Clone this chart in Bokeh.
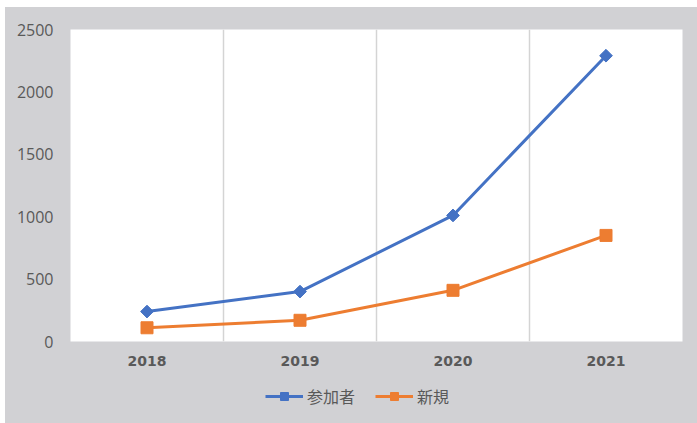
import math
from bokeh.plotting import figure
from bokeh.layouts import column
from bokeh.models import FixedTicker, Legend, LegendItem, Range1d
from bokeh.embed import file_html
from bokeh.resources import INLINE

years = ["2018", "2019", "2020", "2021"]
participants = [240, 400, 1010, 2290]
new_users = [110, 170, 410, 850]
y_ticks = [0, 500, 1000, 1500, 2000, 2500]
series_names = ["参加者", "新規"]

x = [i + 0.5 for i in range(len(years))]
gray = "#d1d1d4"
blue = "#4472C4"
orange = "#ED7D31"

p = figure(width=692, height=373, output_backend="svg", toolbar_location=None,
           x_range=Range1d(0, len(years)), y_range=Range1d(0, 2500),
           min_border_left=65, min_border_right=15, min_border_top=22, min_border_bottom=39)
p.border_fill_color = gray
p.background_fill_color = "white"
p.outline_line_color = None

p.xaxis.ticker = FixedTicker(ticks=x)
p.xaxis.major_label_overrides = {xx: y for xx, y in zip(x, years)}
p.yaxis.ticker = FixedTicker(ticks=y_ticks)
for ax in (p.xaxis[0], p.yaxis[0]):
    ax.axis_line_color = None
    ax.major_tick_line_color = None
    ax.minor_tick_line_color = None
    ax.major_tick_in = 0
    ax.major_tick_out = 0
    ax.major_label_text_color = "#595959"
p.yaxis.major_label_text_font = "Open Sans"
p.yaxis.major_label_text_font_size = "16px"
p.yaxis.major_label_standoff = 17
p.xaxis.major_label_text_font = "DejaVu Sans"
p.xaxis.major_label_text_font_size = "14px"
p.xaxis.major_label_text_font_style = "bold"
p.xaxis.major_label_standoff = 14

p.ygrid.grid_line_color = None
p.xgrid.ticker = FixedTicker(ticks=list(range(1, len(years))))
p.xgrid.grid_line_color = "#d4d4d4"
p.xgrid.grid_line_width = 1.5

p.line(x, participants, line_color=blue, line_width=3)
p.scatter(x, participants, marker="square", size=9, angle=math.pi / 4, color=blue)
p.line(x, new_users, line_color=orange, line_width=3)
p.scatter(x, new_users, marker="square", size=12, color=orange)

# legend strip under the chart (its series fall outside this strip's range and are clipped)
q = figure(width=692, height=43, output_backend="svg", toolbar_location=None,
           x_range=Range1d(0, len(years)), y_range=Range1d(-2, -1), min_border=0,
           x_axis_location=None, y_axis_location=None)
q.border_fill_color = None
q.background_fill_color = None
q.outline_line_color = None
q.grid.visible = False
ql1 = q.line(x, participants, line_color=blue, line_width=3)
qm1 = q.scatter(x, participants, marker="square", size=10, angle=math.pi / 4, color=blue)
ql2 = q.line(x, new_users, line_color=orange, line_width=3)
qm2 = q.scatter(x, new_users, marker="square", size=11, color=orange)

legend = Legend(items=[LegendItem(label=series_names[0], renderers=[ql1, qm1]),
                       LegendItem(label=series_names[1], renderers=[ql2, qm2])],
                orientation="horizontal", location=(195, 15))
legend.background_fill_alpha = 0
legend.border_line_color = None
legend.label_text_font = "Noto Sans CJK JP"
legend.label_text_font_size = "16px"
legend.label_text_color = "#595959"
legend.glyph_width = 38
legend.glyph_height = 20
legend.label_height = 20
legend.label_standoff = 4
legend.spacing = 20
legend.padding = 0
legend.margin = 0
q.add_layout(legend, "center")

layout = column(p, q, spacing=0, margin=(7, 0, 0, 5),
                styles={"background-color": gray})
open("out.html", "w").write(file_html(layout, INLINE))
